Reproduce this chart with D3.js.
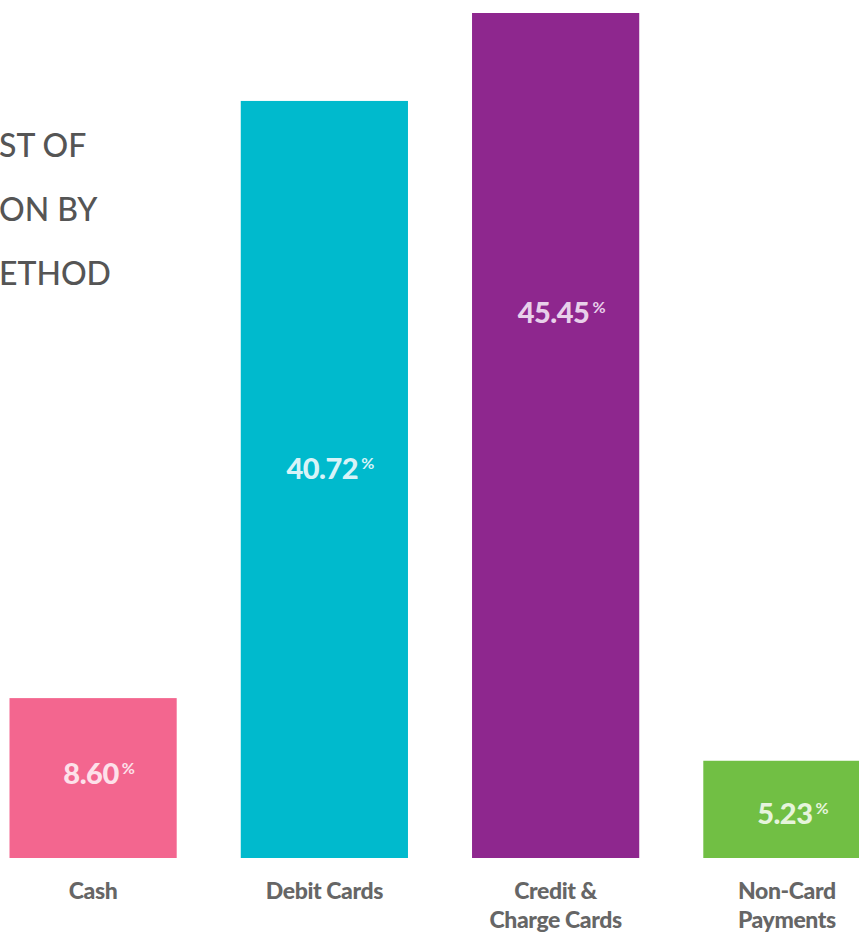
<!DOCTYPE html>
<html lang="en">
<head>
    <meta charset="UTF-8">
    <title>Cost by payment method</title>
    <script src="https://d3js.org/d3.v7.min.js"></script>
    <style>
        body { margin: 0; background: #fff; }
        svg { display: block; }
    </style>
</head>
<body>
<svg id="chart" width="859" height="934"></svg>

<script>
    // data
    const categories = ["Cash", "Debit Cards", "Credit & Charge Cards", "Non-Card Payments"];
    const categoryLines = [["Cash"], ["Debit Cards"], ["Credit &", "Charge Cards"], ["Non-Card", "Payments"]];
    const shares = [8.60, 40.72, 45.45, 5.23];
    const titleLines = ["ST OF", "ON BY", "ETHOD"];

    const barColors = ["#f3668f", "#00bacd", "#8e278e", "#71bf44"];
    const labelColors = ["#fde1ea", "#d8f3f8", "#e8d0ea", "#e6f4dc"];
    // where the value label sits, as a share of bar height from the bottom
    const labelFrac = [0.46, 0.50, 0.633, 0.35];

    const baseY = 858;

    const svg = d3.select("#chart");

    const x = d3.scaleBand()
        .domain(categories)
        .range([9.5, 870.5])
        .paddingInner(0.277)
        .paddingOuter(0);

    const y = d3.scaleLinear()
        .domain([0, 45.45])
        .range([baseY, 13]);

    // title (cut off at the left edge)
    svg.append("g")
        .selectAll("text")
        .data(titleLines).enter()
        .append("text")
        .attr("x", -1)
        .attr("y", function (d, i) { return 157 + i * 64; })
        .style("font-family", "Lato, sans-serif")
        .style("font-size", "32px")
        .style("font-weight", 500)
        .style("fill", "#555555")
        .text(function (d) { return d; });

    // bars
    svg.append("g")
        .selectAll("rect")
        .data(shares).enter()
        .append("rect")
        .attr("x", function (d, i) { return x(categories[i]); })
        .attr("y", function (d) { return y(d); })
        .attr("width", x.bandwidth())
        .attr("height", function (d) { return baseY - y(d); })
        .style("fill", function (d, i) { return barColors[i]; });

    // value labels
    const vals = svg.append("g")
        .selectAll("text")
        .data(shares).enter()
        .append("text")
        .attr("x", function (d, i) { return x(categories[i]) + x.bandwidth() / 2 + 6; })
        .attr("y", function (d, i) { return y(d * labelFrac[i]); })
        .attr("text-anchor", "middle")
        .style("font-family", "Lato, sans-serif")
        .style("font-weight", 900)
        .style("fill", function (d, i) { return labelColors[i]; });

    vals.append("tspan")
        .style("font-size", "29px")
        .style("letter-spacing", "-0.5px")
        .text(function (d) { return d.toFixed(2); });

    vals.append("tspan")
        .attr("dx", 3)
        .attr("dy", -10)
        .style("font-size", "16px")
        .style("font-weight", 700)
        .text("%");

    // category labels
    const cats = svg.append("g")
        .selectAll("text")
        .data(categories).enter()
        .append("text")
        .attr("x", function (d) { return x(d) + x.bandwidth() / 2; })
        .attr("y", 899)
        .attr("text-anchor", "middle")
        .style("font-family", "Lato, sans-serif")
        .style("font-size", "23px")
        .style("font-weight", 900)
        .style("letter-spacing", "-0.4px")
        .style("fill", "#666666");

    cats.selectAll("tspan")
        .data(function (d, i) { return categoryLines[i]; }).enter()
        .append("tspan")
        .attr("x", function () { return d3.select(this.parentNode).attr("x"); })
        .attr("dy", function (d, i) { return i === 0 ? 0 : 29; })
        .text(function (d) { return d; });
</script>
</body>
</html>
